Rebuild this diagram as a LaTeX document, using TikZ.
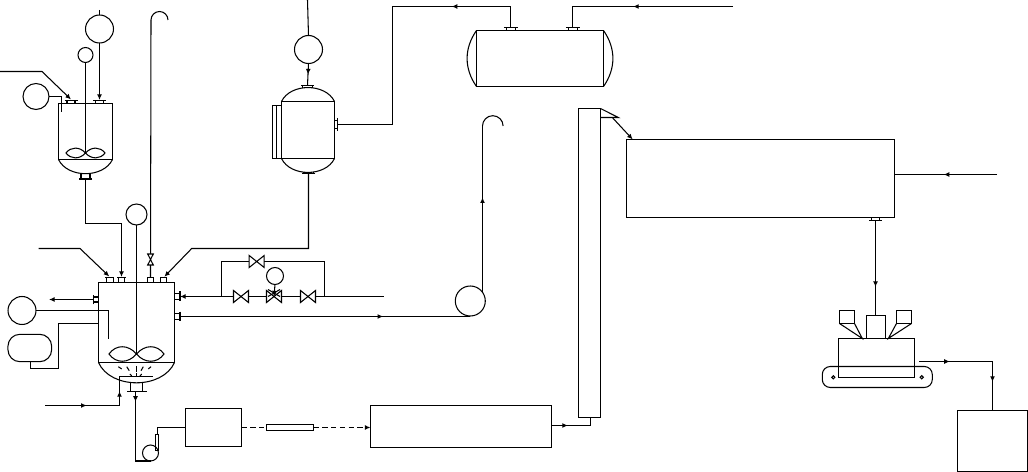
\documentclass[tikz,border=0pt]{standalone}
\usepackage{tikz}
\usetikzlibrary{arrows.meta}
\usetikzlibrary{decorations.markings}

\tikzset{
    box/.style 2 args={draw, rectangle, inner sep=0pt, outer sep=0pt,
        minimum width=#1*0.02cm, minimum height=#2*0.02cm},
    ball/.style={draw, circle, inner sep=0pt, outer sep=0pt, minimum size=#1*0.04cm},
    tip/.style={-{Latex[length=3.2pt,width=2.8pt]}},
    flow/.style={postaction={draw=none, decorate}, decoration={markings,
        mark=at position #1 with {\arrow{Latex[length=3.2pt,width=2.8pt]}}}},
    valve/.pic={\draw[fill=white] (-7.5,-6) -- (7.5,6) -- (7.5,-6) -- (-7.5,6) -- cycle;},
    thinvalve/.pic={\draw[fill=white] (-2.8,-5.5) -- (2.8,5.5) -- (-2.8,5.5) -- (2.8,-5.5) -- cycle;}
}
% position, rotation, half neck, half flange, height
\newcommand{\nozzle}[5]{\draw[shift={(#1)},rotate=#2] (-#3,0) -- (-#3,-#5) -- (#3,-#5) -- (#3,0) (-#4,-#5) -- (#4,-#5);}
% hub, half width, half height
\newcommand{\impeller}[3]{\draw[shift={(#1)}] (0,0) .. controls (-0.3*#2,-#3) and (-0.75*#2,-#3) .. (-#2,0) .. controls (-0.75*#2,#3) and (-0.3*#2,#3) .. (0,0) .. controls (0.3*#2,-#3) and (0.75*#2,-#3) .. (#2,0) .. controls (0.75*#2,#3) and (0.3*#2,#3) .. (0,0);}

\begin{document}
\begin{tikzpicture}[x=0.02cm,y=-0.02cm,line width=0.6pt]
    \useasboundingbox (0,0) rectangle (1028,472);

    % upper stirred tank
    \node[box={54}{56}] (tankA) at (85.5,131.5) {};
    \draw (tankA.south west) to[bend right=64] (tankA.south east);
    \nozzle{71,103.5}{0}{4}{6.5}{3}
    \nozzle{99.5,103.5}{0}{4}{6.5}{3}
    \nozzle{85.5,174}{180}{4.5}{6.5}{5}
    \impeller{85.5,153}{19.5}{6.5}
    \node[ball=14] (topA) at (99.5,29) {};
    \node[ball=7.5] (smallA) at (85.5,55) {};
    \node[ball=13] (sideA) at (36,96.5) {};
    \coordinate (stubA) at (99.5,10);
    \coordinate (inA) at (0,71.5);
    \coordinate (inAk) at (42,71.5);
    \coordinate (inAe) at (71,99.5);
    \coordinate (sideAe) at (61.5,112);
    \draw (stubA) -- (topA.north);
    \draw[tip] (topA.south) -- (99.5,100);
    \draw (smallA.south) -- (85.5,153);
    \draw[tip] (inA) -- (inAk) -- (inAe);
    \draw (sideA.east) -| (sideAe);

    % lower reactor
    \node[box={76}{80}] (tankB) at (136.5,322.5) {};
    \draw (tankB.south west) to[bend right=66] (tankB.south east);
    \nozzle{109.7,282.5}{0}{3.4}{4.4}{5}
    \nozzle{121.5,282.5}{0}{3.2}{4.4}{5}
    \nozzle{150.5,282.5}{0}{3.2}{3.2}{5}
    \nozzle{163.3,282.5}{0}{3}{3}{5}
    \nozzle{136.5,383}{180}{6.2}{10}{8.7}
    \nozzle{98.5,299.5}{90}{2.5}{4.8}{5}
    \nozzle{174.5,296.5}{-90}{2.8}{5}{5.5}
    \nozzle{174.5,316.5}{-90}{2.8}{4.8}{5.5}
    \impeller{136.5,354}{27.5}{9.7}

    \node[ball=10.5] (stirB) at (136.5,214.5) {};
    \draw (stirB.south) -- (136.5,354);
    \coordinate (inB) at (38.7,248.5);
    \coordinate (inBk) at (80,248.5);
    \coordinate (inBe) at (109.3,276.5);
    \draw[tip] (inB) -- (inBk) -- (inBe);
    \draw[tip] (85.5,179) |- (121.5,223.5) -- (121.5,277);
    \coordinate (hookA) at (151,20);
    \coordinate (ventB) at (150.5,277.5);
    \draw (hookA) arc[start angle=180,end angle=0,radius=0.17cm];
    \draw (hookA) -- (ventB);
    \path (150.5,259.5) pic {thinvalve};
    \coordinate (inC) at (164.3,276.8);
    \draw[tip] (308.5,173) |- (191.7,248.5) -- (inC);

    % left side of the reactor
    \node[ball=14] (ballL) at (22,310.5) {};
    \node[box={43.7}{27.4}, rounded corners=2.4mm] (drumL) at (29.8,348) {};
    \draw (ballL.east) -| (108.5,339);
    \draw (drumL.south -| 30.5,0) |- (58.5,368.5) |- (tankB.west |- 0,323.5);
    \draw[tip] (93.5,299.5) -- (49,299.5);

    % sparger
    \draw[flow=0.56] (45,405.5) -- (119.5,405.5);
    \draw[flow=0.23] (119.5,405.5) -- (119.5,376.5) -- (153,376.5);
    \foreach \xa/\ya/\xb/\yb in {118.3/366.7/121.7/369, 126.7/366.7/129.3/370.7, 136.5/366/136.5/371.7, 143.3/366.7/141/370.7, 151/366.7/148.3/369, 130/374/131.7/376, 136.5/373.3/136.5/375.7, 141.7/374/140/376}
        \draw (\xa,\ya) -- (\xb,\yb);

    % pump and mixing box
    \node[ball=8] (pump) at (150.5,453) {};
    \node[box={3}{16}] (pumpOut) at (157.2,442.3) {};
    \node[box={56}{38}] (mixBox) at (213.5,427.5) {};
    \node[box={47}{6}] (rod) at (290,427.5) {};
    \node[box={181}{42}] (dryBox) at (461,426.5) {};
    \draw[flow=0.12] (135.5,391.7) |- (pump.south);
    \draw (pumpOut.north) |- (mixBox.west);
    \draw[dash pattern=on 3pt off 2pt] (mixBox.east) -- (rod.west);
    \draw[dash pattern=on 3pt off 2pt, tip] (rod.east) -- (dryBox.west |- rod.east);

    % elevator
    \node[box={22}{309}] (tower) at (589.5,263) {};
    \coordinate (towerT) at (618.3,117.5);
    \coordinate (towerS) at (600.5,117.5);
    \draw (tower.north east) -- (towerT) -- (towerS);
    \draw[flow=0.35] (dryBox.east |- 0,425.5) -- (590.5,425.5) -- (590.5,417.5);

    % storage vessel
    \node[box={53}{57}] (tankC) at (308,130) {};
    \draw (tankC.north west) to[bend left=64] (tankC.north east);
    \draw (tankC.south west) to[bend right=64] (tankC.south east);
    \nozzle{307.8,87.7}{0}{5}{6.5}{2.4}
    \nozzle{308.5,172}{180}{5}{6.8}{1.5}
    \draw (272.5,105.5) rectangle (276.5,158.5) (276.5,105.5) -- (281.5,105.5) (276.5,158.5) -- (281.5,158.5);
    \node[ball=14] (topC) at (308.5,49.5) {};
    \draw (307.5,0) -- (topC.north);
    \draw[flow=0.5] (topC.south) -- (307.5,85.5);
    \nozzle{334.5,124.5}{-90}{4}{6.5}{3}

    % horizontal tank
    \node[box={127}{56}] (tankD) at (540,58.5) {};
    \draw (tankD.north west) to[bend right=35] (tankD.south west);
    \draw (tankD.north east) to[bend left=35] (tankD.south east);
    \nozzle{511,30.5}{0}{4.5}{7.2}{2.6}
    \nozzle{573,30.5}{0}{4.8}{7.2}{2.6}
    \draw[flow=0.256] (510.5,27.7) |- (392.5,6.5) |- (337.3,124.5);
    \draw[flow=0.55] (733,6.5) -| (572.5,27.7);

    % valves
    \node[ball=8.5] (ctrl) at (275,276) {};
    \coordinate (byL) at (221.5,296.5);
    \coordinate (byR) at (324.5,296.5);
    \draw[tip] (byL) -- (180,296.5);
    \draw (byL) |- (256.7,261.5) -| (byR);
    \draw (byL) -- (384,296.5);
    \path (256.7,261.5) pic {valve};
    \path (241,296.5) pic {valve};
    \path (274,296.5) pic {valve};
    \path (308,296.5) pic {valve};
    \draw (268,289.5) -- (280,296.5) (280,289.5) -- (268,296.5);
    \draw[tip] (ctrl.south) -- (274,296.5);

    % line to the second hook
    \node[ball=15] (ballR) at (470.3,301) {};
    \draw[flow=0.7] (180,316.5) -- (470.3,316.5);
    \coordinate (hookB) at (482.5,126);
    \draw[flow=0.57] (482.5,292) -- (hookB);
    \draw (hookB) arc[start angle=180,end angle=0,radius=0.206cm];

    % big box
    \node[box={268}{78}] (bigBox) at (760.5,178.5) {};
    \draw[tip] (612.3,117.5) -- (bigBox.north west -| 632.7,0);
    \draw[flow=0.52] (997,174.5) -- (bigBox.east |- 0,174.5);
    \nozzle{875.5,217.5}{180}{4}{6.3}{3.3}

    % packing line
    \node[box={19}{23}] (feed) at (876,327) {};
    \node[box={76}{39}] (packer) at (876.5,358) {};
    \node[box={15}{13}] (hopL) at (847,317) {};
    \node[box={15}{13}] (hopR) at (904,317) {};
    \node[box={110}{21}, rounded corners=1.6mm] (band) at (877.3,377) {};
    \node[ball=1.6] (rollL) at (833.3,377.3) {};
    \node[ball=1.6] (rollR) at (921.7,377.3) {};
    \coordinate (funL) at (862.3,338.5);
    \coordinate (funR) at (888.3,338.5);
    \draw (hopL.south west) -- (funL) -- (hopL.south east);
    \draw (hopR.south east) -- (funR) -- (hopR.south west);
    \draw[flow=0.7] (875.5,220.5) -- (feed.north -| 875.5,0);
    \node[box={70}{61}] (bin) at (992.5,441) {};
    \coordinate (packOut) at (919.3,361.5);
    \draw[flow=0.25] (packOut) -| (bin.north);
    \path[flow=0.766] (packOut) -| (bin.north);
\end{tikzpicture}
\end{document}
